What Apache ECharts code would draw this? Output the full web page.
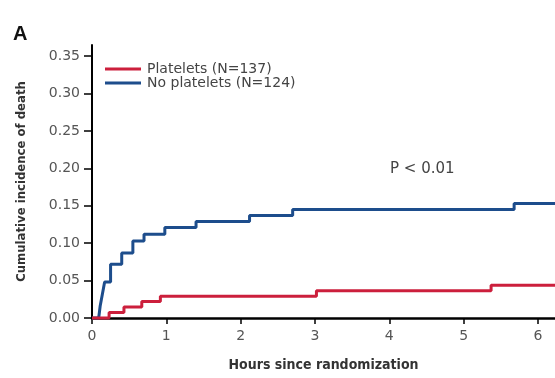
<!DOCTYPE html>
<html>
<head>
<meta charset="utf-8">
<script src="https://cdn.jsdelivr.net/npm/echarts@6/dist/echarts.min.js"></script>
<style>
  html, body { margin: 0; padding: 0; background: #fff; }
  #chart { width: 555px; height: 378px; }
</style>
</head>
<body>
<div id="chart"></div>
<script>
// 时间（小时）与累计死亡率
const plateletsHours = [0, 0.23, 0.43, 0.67, 0.92, 3.02, 5.37, 6.23]
const plateletsValues = [0, 0.0073, 0.0146, 0.0219, 0.0292, 0.0365, 0.0438, 0.0438]

const noPlateletsHours = [0, 0.09, 0.10, 0.11, 0.125, 0.14, 0.155, 0.17, 0.25, 0.40, 0.55, 0.70, 0.98, 1.40, 2.12, 2.70, 5.68, 6.23]
const noPlateletsValues = [0, 0, 0.008, 0.016, 0.024, 0.032, 0.040, 0.048, 0.072, 0.087, 0.103, 0.112, 0.121, 0.129, 0.137, 0.145, 0.153, 0.153]

const xTicks = [0, 1, 2, 3, 4, 5, 6]
const yTicks = [0, 0.05, 0.10, 0.15, 0.20, 0.25, 0.30, 0.35]

const seriesNames = ['Platelets (N=137)', 'No platelets (N=124)']
const pValueText = 'P < 0.01'

const toPairs = (xs, ys) => xs.map((x, i) => [x, ys[i]])

const chart = echarts.init(document.getElementById('chart'))

const labelFont = 'DejaVu Sans, sans-serif'
const narrowFont = 'Liberation Sans Narrow, DejaVu Sans Condensed, sans-serif'

const option = {
  animation: false,
  title: {
    text: 'A',
    left: 8,
    top: 19,
    textStyle: { fontSize: 20, fontWeight: 'bold', color: '#111', fontFamily: 'Liberation Sans, Arial, sans-serif' }
  },
  legend: {
    data: seriesNames,
    orient: 'vertical',
    left: 100,
    top: 57,
    itemWidth: 36,
    itemHeight: 3,
    itemGap: 0,
    icon: 'rect',
    textStyle: { fontSize: 14, lineHeight: 12.5, color: '#444', fontFamily: labelFont, padding: [0, 0, 0, 1] }
  },
  graphic: [
    {
      type: 'text',
      left: 390,
      top: 162,
      style: { text: pValueText, fontSize: 15, fill: '#444', fontFamily: labelFont }
    }
  ],
  grid: { left: 92, right: 0, top: 45, bottom: 60 },
  xAxis: {
    type: 'value',
    min: 0,
    max: 6.23,
    name: 'Hours since randomization',
    nameLocation: 'middle',
    nameGap: 40,
    nameTextStyle: { fontSize: 14, fontWeight: 'bold', color: '#333', fontFamily: narrowFont },
    axisLine: { onZero: false, lineStyle: { color: '#000', width: 2.5 } },
    axisTick: { customValues: xTicks, length: 6, lineStyle: { color: '#000', width: 1.5 } },
    axisLabel: { customValues: xTicks, fontSize: 14, color: '#555', margin: 11, fontFamily: labelFont },
    splitLine: { show: false }
  },
  yAxis: {
    type: 'value',
    min: 0,
    max: 0.365,
    name: 'Cumulative incidence of death',
    nameLocation: 'middle',
    nameGap: 64,
    nameTextStyle: { fontSize: 13, fontWeight: 'bold', color: '#333', fontFamily: narrowFont },
    axisLine: { show: true, lineStyle: { color: '#000', width: 2 } },
    axisTick: { show: true, customValues: yTicks, length: 8, lineStyle: { color: '#000', width: 1.5 } },
    axisLabel: {
      customValues: yTicks,
      fontSize: 14,
      color: '#555',
      margin: 12,
      fontFamily: labelFont,
      formatter: v => v.toFixed(2)
    },
    splitLine: { show: false }
  },
  series: [
    {
      name: seriesNames[0],
      type: 'line',
      step: 'end',
      data: toPairs(plateletsHours, plateletsValues),
      symbol: 'none',
      clip: false,
      z: 5,
      lineStyle: { width: 3, color: '#cc1f3c' },
      itemStyle: { color: '#cc1f3c' }
    },
    {
      name: seriesNames[1],
      type: 'line',
      step: 'end',
      data: toPairs(noPlateletsHours, noPlateletsValues),
      symbol: 'none',
      clip: false,
      z: 4,
      lineStyle: { width: 3, color: '#1d4d8c' },
      itemStyle: { color: '#1d4d8c' }
    }
  ]
}

chart.setOption(option)
</script>
</body>
</html>
